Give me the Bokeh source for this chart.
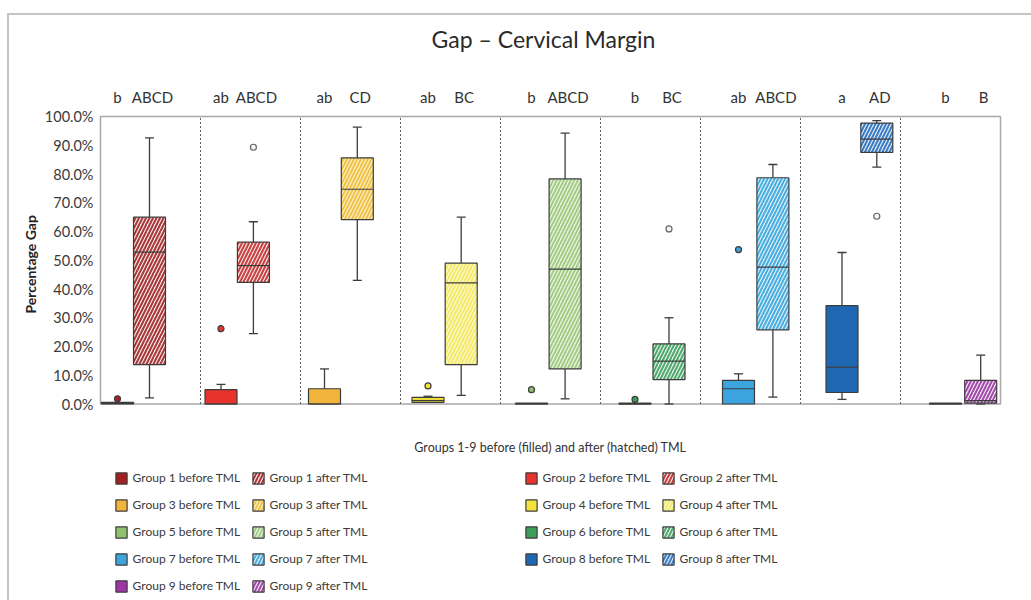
from bokeh.plotting import figure
from bokeh.models import Legend, LegendItem, FixedTicker, PrintfTickFormatter, Range1d, Title
from bokeh.core.properties import value
from bokeh.embed import file_html
from bokeh.resources import INLINE

# ---------------- data ----------------
groups = ["Group 1", "Group 2", "Group 3", "Group 4", "Group 5",
          "Group 6", "Group 7", "Group 8", "Group 9"]

# before TML (filled)
b_lo  = [0.0, 0.0, 0.0, 0.6, 0.0, 0.0, 0.0, 1.6, 0.0]
b_q1  = [0.0, 0.0, 0.0, 0.6, 0.0, 0.0, 0.0, 4.0, 0.0]
b_med = [0.2, 0.0, 0.0, 1.2, 0.0, 0.0, 5.3, 12.8, 0.0]
b_q3  = [0.6, 5.0, 5.3, 2.3, 0.3, 0.3, 8.2, 34.2, 0.3]
b_hi  = [0.6, 6.8, 12.2, 2.7, 0.3, 0.3, 10.5, 52.7, 0.3]
b_out = [[1.8], [26.2], [], [6.3], [5.0], [1.6], [53.7], [], []]

# after TML (hatched)
a_lo  = [2.1, 24.5, 43.0, 3.0, 1.8, 0.0, 2.4, 82.4, 0.0]
a_q1  = [13.7, 42.3, 64.1, 13.7, 12.2, 8.5, 25.8, 87.5, 0.3]
a_med = [52.8, 48.1, 74.7, 42.1, 46.9, 14.9, 47.6, 92.1, 1.2]
a_q3  = [65.0, 56.3, 85.6, 49.0, 78.3, 20.9, 78.7, 97.7, 8.2]
a_hi  = [92.6, 63.4, 96.3, 65.0, 94.2, 30.0, 83.3, 98.6, 17.0]
a_out = [[], [89.3], [], [], [], [60.9], [], [65.3], []]

sig_before = ["b", "ab", "ab", "ab", "b", "b", "ab", "a", "b"]
sig_after = ["ABCD", "ABCD", "CD", "BC", "ABCD", "BC", "ABCD", "AD", "B"]

y_ticks = [0, 10, 20, 30, 40, 50, 60, 70, 80, 90, 100]

title_text = "Gap \u2013 Cervical Margin"
x_title = "Groups 1-9 before (filled) and after (hatched) TML"
y_title = "Percentage Gap"

# ---------------- styles ----------------
before_color = ["#a41f22", "#e8322c", "#f1b43c", "#f4e23a", "#8fc26f",
                "#3c9e5a", "#3ca4de", "#1f66b3", "#a034a8"]
after_hatch = ["#a8373a", "#c8403f", "#f0c24a", "#f3e96a", "#a2cc84",
               "#4fa86c", "#48addf", "#3b7cc4", "#a14aaa"]
after_bg = ["#f8eaea", "#f8e6e6", "#fcf1c8", "#fdfad0", "#eef6e8",
            "#e8f4ec", "#e4f3fb", "#e4edf8", "#f5e8f6"]
EDGE = "#3c3c3c"
FONT = "Lato"
TXT = "#333333"
W, H = 1031, 600
LEFT = 98                 # frame starts here (px)
PX_X = 100.0              # px per group
PX_Y = 2.875              # px per percent
Y0 = 403.5                # pixel row of 0 %

BW = 0.32
xb = [0.17 + 1.035 * i for i in range(len(groups))]
xa = [0.49 + 1.039 * i for i in range(len(groups))]

x_range = Range1d((LEFT - 100) / PX_X, (W - 100) / PX_X)
y_range = Range1d((Y0 - H) / PX_Y, Y0 / PX_Y)


def ypx(py):
    return (Y0 - py) / PX_Y


p = figure(width=W, height=H, x_range=x_range, y_range=y_range,
           output_backend="svg", toolbar_location=None,
           min_border_left=LEFT, min_border_right=0, min_border_top=0,
           min_border_bottom=0)
p.xgrid.visible = False
p.ygrid.visible = False
p.xaxis.visible = False
p.outline_line_color = None
p.background_fill_color = None
p.border_fill_color = None
p.styles = {
    "background": "linear-gradient(#c4c4c4, #c4c4c4) 7px 13px / 2px 700px no-repeat, "
                  "linear-gradient(#c4c4c4, #c4c4c4) 7px 13px / 1200px 2px no-repeat, #ffffff"
}

ax = p.yaxis[0]
ax.ticker = FixedTicker(ticks=y_ticks)
ax.formatter = PrintfTickFormatter(format="%.1f%%")
ax.axis_line_color = None
ax.major_tick_line_color = None
ax.minor_tick_line_color = None
ax.major_tick_out = 0
ax.major_tick_in = 0
ax.major_label_text_font = FONT
ax.major_label_text_font_size = "14.5px"
ax.major_label_text_color = "#3a3a3a"
ax.major_label_standoff = 5

# y-axis title, placed along the 0-100 % span
p.add_layout(Title(text=y_title, align="left", offset=H - 308 - 5,
                   vertical_align="middle", standoff=4, text_font=FONT,
                   text_font_size="14px", text_font_style="bold",
                   text_color="#222222"), "left")

n = len(groups)
# plot box and separators
p.quad(left=[0], right=[n], bottom=[0], top=[100], fill_color=None,
       line_color="#a8a8a8", line_width=1.5)
p.segment(x0=list(range(1, n)), y0=[0] * (n - 1), x1=list(range(1, n)),
          y1=[100] * (n - 1), line_color="#606060", line_width=1, line_dash="2 2")


def draw_box(x, lo, q1, med, q3, hi, outs, fill, hatch=None, hbg=None):
    if hi > q3:
        p.segment(x0=[x], y0=[q3], x1=[x], y1=[hi], line_color=EDGE, line_width=1.3)
        p.segment(x0=[x - 0.045], y0=[hi], x1=[x + 0.045], y1=[hi], line_color=EDGE, line_width=1.3)
    if lo < q1:
        p.segment(x0=[x], y0=[lo], x1=[x], y1=[q1], line_color=EDGE, line_width=1.3)
        p.segment(x0=[x - 0.045], y0=[lo], x1=[x + 0.045], y1=[lo], line_color=EDGE, line_width=1.3)
    if hatch is None:
        r = p.vbar(x=[x], width=BW, bottom=[q1], top=[q3], fill_color=fill,
                   line_color=EDGE, line_width=1.2)
        oc, oe = fill, EDGE
    else:
        r = p.vbar(x=[x], width=BW, bottom=[q1], top=[q3], fill_color=hbg,
                   hatch_pattern="/", hatch_color=hatch, hatch_scale=7,
                   hatch_weight=2, line_color=EDGE, line_width=1.2)
        oc, oe = "#f4f4f4", "#666666"
    if q3 > q1:
        p.segment(x0=[x - BW / 2], y0=[med], x1=[x + BW / 2], y1=[med],
                  line_color=EDGE, line_width=1.2)
    if outs:
        p.scatter(x=[x] * len(outs), y=outs, size=6, fill_color=oc,
                  line_color=oe, line_width=1.2)
    return r


rb, ra = [], []
for i in range(n):
    rb.append(draw_box(xb[i], b_lo[i], b_q1[i], b_med[i], b_q3[i], b_hi[i],
                       b_out[i], before_color[i]))
    ra.append(draw_box(xa[i], a_lo[i], a_q1[i], a_med[i], a_q3[i], a_hi[i],
                       a_out[i], None, after_hatch[i], after_bg[i]))

# significance letters above each panel
p.text(x=xb, y=[ypx(96)] * n, text=sig_before, text_align="center",
       text_baseline="middle", text_font=value(FONT), text_font_size="15px",
       text_color=TXT)
p.text(x=[v + 0.03 for v in xa], y=[ypx(96)] * n, text=sig_after,
       text_align="center", text_baseline="middle", text_font=value(FONT),
       text_font_size="15px", text_color=TXT)

# title and x caption
p.text(x=[4.43], y=[ypx(38)], text=[title_text], text_align="center",
       text_baseline="middle", text_font=value(FONT), text_font_size="23px",
       text_color="#2a2a2a")
p.text(x=[4.5], y=[ypx(447)], text=[x_title], text_align="center",
       text_baseline="middle", text_font=value(FONT), text_font_size="12.5px",
       text_color=TXT)


def make_legend(idx, rends, suffix, sx_left, nrows):
    items = [LegendItem(label=f"{groups[i]} {suffix} TML", renderers=[rends[i]])
             for i in idx]
    top = 470
    bottom = top + nrows * 15 + (nrows - 1) * 12
    lg = Legend(items=items, location=(sx_left - 1.4 - LEFT, H - bottom),
                orientation="vertical", padding=0, margin=0, spacing=12,
                glyph_width=14, glyph_height=14, label_height=15,
                label_standoff=5, label_text_font=FONT,
                label_text_font_size="12px", label_text_color="#3a3a3a",
                border_line_alpha=0, background_fill_alpha=0)
    p.add_layout(lg, "center")


odd = [0, 2, 4, 6, 8]
even = [1, 3, 5, 7]
make_legend(odd, rb, "before", 115, 5)
make_legend(odd, ra, "after", 252, 5)
make_legend(even, rb, "before", 525, 4)
make_legend(even, ra, "after", 662, 4)

open("out.html", "w").write(file_html(p, INLINE))
